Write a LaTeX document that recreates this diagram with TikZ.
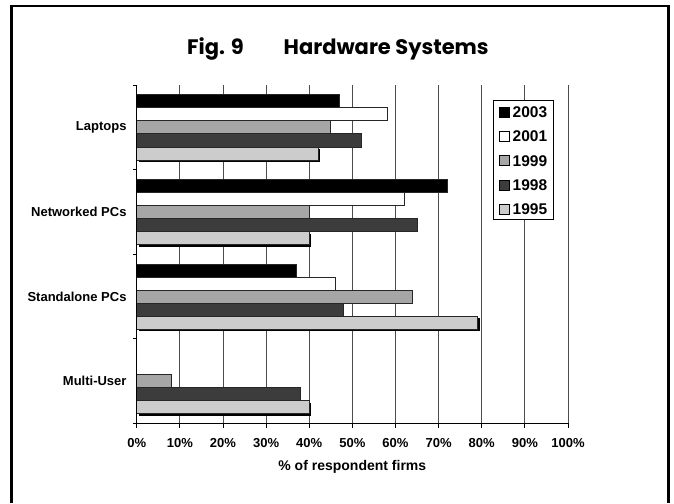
\documentclass[tikz,border=0pt]{standalone}
\usepackage{fontspec}
\setmainfont{Liberation Sans}
\newfontfamily\titlefont{Poppins}
\definecolor{ser0}{HTML}{000000}
\definecolor{ser1}{HTML}{FFFFFF}
\definecolor{ser2}{HTML}{A6A6A6}
\definecolor{ser3}{HTML}{3C3C3C}
\definecolor{ser4}{HTML}{CCCCCC}
\begin{document}
\begin{tikzpicture}[x=1pt,y=-1pt,
  frame/.style={line width=2.4pt,line join=miter},
  grid/.style={black!70,line width=0.8pt},
  axis/.style={black,line width=0.9pt},
  bar/.style={draw=black!85,line width=0.6pt},
  catlbl/.style={font=\bfseries\fontsize{13}{13}\selectfont,inner sep=0pt,anchor=east},
  ticklbl/.style={font=\bfseries\fontsize{13}{13}\selectfont,inner sep=0pt},
  leglbl/.style={font=\bfseries\fontsize{15.5}{15.5}\selectfont,inner sep=0pt,anchor=west},
  legkey/.style={draw=black,line width=0.6pt,minimum size=10pt,inner sep=0pt},
  titlelbl/.style={font=\titlefont\bfseries\fontsize{21}{21}\selectfont,inner sep=0pt,anchor=base west}]
\useasboundingbox (0,0) rectangle (674,503);

% outer frame (open at the bottom edge of the page)
\draw[frame] (11.5,503) -- (11.5,6) -- (668.5,6) -- (668.5,503);

% title
\node[titlelbl] (figno) at (187,55) {Fig. 9};
\node[titlelbl] (figname) at (283.5,55) {Hardware Systems};

% vertical gridlines
\foreach \p in {10,20,...,100}
  \draw[grid] (136.7+\p*4.313,85) -- (136.7+\p*4.313,423.3);

% bars: one list of values per category, series top to bottom 2003,2001,1999,1998,1995
\foreach \k/\vals in {0/{47,58,45,52,42},1/{72,62,40,65,40},2/{37,46,64,48,79},3/{0,0,8,38,40}}{
  \foreach \v [count=\jj from 0] in \vals {
    \pgfmathsetmacro\yt{85+\k*84.575+9.76+\jj*13.01}
    \pgfmathsetmacro\xe{136.7+\v*4.313}
    \ifnum\v>0
      \ifnum\jj=4
        \fill[black] (138.9,\yt+2.2) rectangle (\xe+2.2,\yt+15.2);
      \fi
      \filldraw[bar,fill=ser\jj] (136.7,\yt) rectangle (\xe,\yt+13.01);
    \fi
  }
}

% axes with tick marks
\draw[axis] (136.7,85) -- (136.7,423.3);
\foreach \c in {0,...,4}
  \draw[axis] (133,85+\c*84.575) -- (136.7,85+\c*84.575);
\draw[axis] (133,423.3) -- (568,423.3);
\foreach \p in {0,10,...,100}
  \draw[axis] (136.7+\p*4.313,423.3) -- (136.7+\p*4.313,427.5);

% tick labels
\foreach \p in {0,10,...,100}
  \node[ticklbl] (tick\p) at (136.7+\p*4.313,443.3) {\p\%};
\node[ticklbl,font=\bfseries\fontsize{14}{14}\selectfont] (xtitle) at (352.3,467) {\% of respondent firms};

% category labels
\node[catlbl] (catA) at (126.7,127.3) {Laptops};
\node[catlbl] (catB) at (126.7,211.9) {Networked PCs};
\node[catlbl] (catC) at (126.7,296.5) {Standalone PCs};
\node[catlbl] (catD) at (126.7,381.0) {Multi-User};

% legend
\node[draw=black,line width=0.6pt,fill=white,minimum width=60pt,minimum height=119pt,inner sep=0pt] (legend) at (523.3,159.5) {};
\foreach \yr [count=\i from 0] in {2003,2001,1999,1998,1995}{
  \node[legkey,fill=ser\i] (key\yr) at (504.2,112.3+\i*24.2) {};
  \node[leglbl] (lab\yr) at (512.5,112.3+\i*24.2) {\yr};
}
\end{tikzpicture}
\end{document}
